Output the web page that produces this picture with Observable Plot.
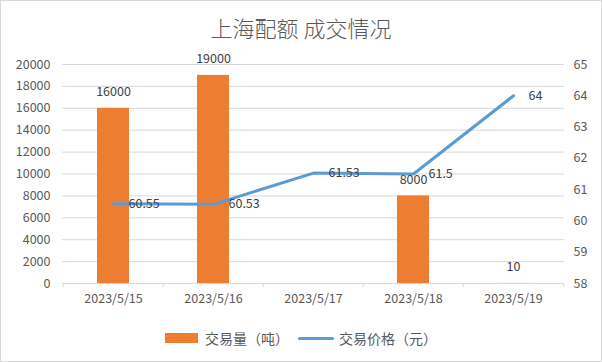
<!DOCTYPE html>
<html><head><meta charset="utf-8">
<script src="https://cdn.jsdelivr.net/npm/d3@7"></script>
<script src="https://cdn.jsdelivr.net/npm/@observablehq/plot@0.6"></script>
<style>
body{margin:0;background:#fff;}
#chart{width:600px;height:360px;border:1px solid #d9d9d9;font-family:"Noto Sans CJK SC","Noto Sans",sans-serif;background:#fff;overflow:hidden;}
#title{height:49px;line-height:52px;text-align:center;font-size:22px;color:#595959;font-weight:300;}
#plot svg{display:block;}
#legend{height:46px;display:flex;justify-content:center;align-items:center;font-size:14px;color:#595959;}
.sw{display:inline-block;}
</style></head>
<body>
<div id="chart">
  <div id="title">上海配额 成交情况</div>
  <div id="plot"></div>
  <div id="legend">
    <span class="sw" style="width:33px;height:10px;background:#ED7D31;margin-right:7px;"></span><span style="margin-right:9px;">交易量（吨）</span>
    <span class="sw" style="width:36px;height:3px;background:#5B9BD5;border-radius:2px;margin-right:5px;"></span><span>交易价格（元）</span>
  </div>
</div>
<script>
const dates = ["2023/5/15", "2023/5/16", "2023/5/17", "2023/5/18", "2023/5/19"];
const volume = [16000, 19000, null, 8000, 10];
const price = [60.55, 60.53, 61.53, 61.5, 64];
const leftTicks = [0, 2000, 4000, 6000, 8000, 10000, 12000, 14000, 16000, 18000, 20000];
const rightTicks = [58, 59, 60, 61, 62, 63, 64, 65];

const leftMax = 20000, rMin = 58, rMax = 65;
const toLeft = p => (p - rMin) / (rMax - rMin) * leftMax;
const fromLeft = v => rMin + v / leftMax * (rMax - rMin);

const W = 600, H = 265, mL = 61, mR = 37, mT = 14, mB = 32;
const step = (W - mL - mR) / dates.length;

const rows = dates.map((d, i) => ({date: d, vol: volume[i], price: price[i], py: toLeft(price[i])}));
const barRows = rows.filter(r => r.vol != null);

const grid = "#d9d9d9", axisText = "#595959", labelText = "#404040";

const chart = Plot.plot({
  width: W, height: H,
  marginLeft: mL, marginRight: mR, marginTop: mT, marginBottom: mB,
  style: {fontFamily: '"Noto Sans CJK SC","Noto Sans",sans-serif', fontSize: "12px", background: "#fff", overflow: "visible"},
  x: {type: "band", domain: dates, paddingInner: 0.68, paddingOuter: 0.34, axis: null},
  y: {domain: [0, leftMax], axis: null},
  marks: [
    Plot.ruleY(leftTicks, {stroke: grid, strokeWidth: 1}),
    Plot.ruleX(dates, {x: d => d, y1: 0, y2: -380, stroke: grid, dx: -step / 2}),
    Plot.ruleX(dates.slice(-1), {x: d => d, y1: 0, y2: -380, stroke: grid, dx: step / 2}),
    Plot.barY(barRows, {x: "date", y: "vol", fill: "#ED7D31"}),
    Plot.line(rows, {x: "date", y: "py", stroke: "#5B9BD5", strokeWidth: 3, strokeLinejoin: "round", strokeLinecap: "round"}),
    Plot.text(barRows, {x: "date", y: "vol", text: r => String(r.vol), lineAnchor: "bottom", dy: -12, fill: labelText, fontSize: 12.5}),
    Plot.text(rows, {x: "date", y: "py", text: r => String(r.price), textAnchor: "start", dx: 15, fill: labelText, fontSize: 12.5}),
    Plot.axisX({anchor: "bottom", tickSize: 0, tickPadding: 11, fill: axisText, fontSize: 12.5, label: null}),
    Plot.axisY(leftTicks, {anchor: "left", tickSize: 0, tickPadding: 12, fill: axisText, fontSize: 12.5, label: null, tickFormat: v => String(v)}),
    Plot.axisY(rightTicks.map(toLeft), {anchor: "right", tickSize: 0, tickPadding: 9, fill: axisText, fontSize: 12.5, label: null, tickFormat: v => String(Math.round(fromLeft(v)))})
  ]
});
document.getElementById("plot").appendChild(chart);
</script>
</body></html>
